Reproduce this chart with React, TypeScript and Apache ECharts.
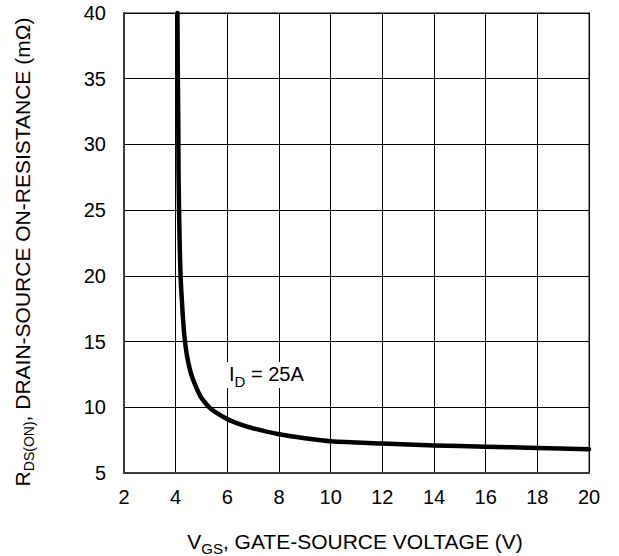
import React, { useEffect, useRef } from "react";
import * as echarts from "echarts";

// V_GS (V)
const vgs = [4.07, 4.08, 4.1, 4.11, 4.14, 4.19, 4.26, 4.32, 4.4, 4.5, 4.62, 4.8, 5.0, 5.3, 5.6, 6, 6.5, 7, 8, 9, 10, 12, 14, 16, 18, 20];
// R_DS(on) (mΩ)
const rds = [40, 36, 32, 28, 24, 20, 17.5, 15.8, 14.4, 13.3, 12.4, 11.5, 10.7, 10, 9.55, 9.1, 8.7, 8.4, 7.95, 7.65, 7.42, 7.25, 7.1, 7.0, 6.9, 6.8];

const xMin = 2, xMax = 20, xStep = 2;
const yMin = 5, yMax = 40, yStep = 5;

const FONT = "'Liberation Sans', Arial, sans-serif";

export default function App() {
  const ref = useRef<HTMLDivElement>(null);
  useEffect(() => {
    document.body.style.margin = "0";
    const chart = echarts.init(ref.current!, null, { renderer: "svg" });
    const data = vgs.map((x, i) => [x, rds[i]]);
    chart.setOption({
      animation: false,
      backgroundColor: "#ffffff",
      grid: {
        left: 124,
        right: 30,
        top: 13,
        bottom: 83,
        show: true,
        borderColor: "#8a8a8a",
        borderWidth: 2,
      },
      xAxis: {
        type: "value",
        min: xMin,
        max: xMax,
        interval: xStep,
        axisLine: { show: true, lineStyle: { color: "#3a3a3a", width: 2 } },
        axisTick: { show: false },
        axisLabel: { color: "#000", fontSize: 20, fontFamily: FONT, margin: 14 },
        splitLine: { show: true, lineStyle: { color: "#000", width: 1 } },
      },
      yAxis: {
        type: "value",
        min: yMin,
        max: yMax,
        interval: yStep,
        axisLine: { show: true, lineStyle: { color: "#3a3a3a", width: 2 } },
        axisTick: { show: false },
        axisLabel: { color: "#000", fontSize: 20, fontFamily: FONT, margin: 18 },
        splitLine: { show: true, lineStyle: { color: "#000", width: 1 } },
      },
      series: [
        {
          type: "line",
          data,
          showSymbol: false,
          smooth: 0.3,
          lineStyle: { color: "#000", width: 4.5, join: "round", cap: "round" },
          z: 5,
        },
      ],
      graphic: [
        {
          type: "text",
          x: 226,
          y: 375,
          z: 10,
          style: {
            text: "{a|I}{s|D}{a| = 25A}",
            align: "left",
            verticalAlign: "middle",
            backgroundColor: "#ffffff",
            padding: [2, 3, 2, 3],
            rich: {
              a: { fontSize: 20, fontFamily: FONT, fill: "#000", lineHeight: 22, verticalAlign: "top" },
              s: { fontSize: 15, fontFamily: FONT, fill: "#000", lineHeight: 15, verticalAlign: "top", padding: [10, 0, 0, 0] },
            },
          },
        },
        {
          type: "text",
          x: 355,
          y: 542,
          style: {
            text: "{a|V}{s|GS}{a|, GATE-SOURCE VOLTAGE (V)}",
            align: "center",
            verticalAlign: "middle",
            rich: {
              a: { fontSize: 21, fontFamily: FONT, fill: "#000", lineHeight: 23, verticalAlign: "top" },
              s: { fontSize: 15, fontFamily: FONT, fill: "#000", lineHeight: 15, verticalAlign: "top", padding: [10, 0, 0, 0] },
            },
          },
        },
        {
          type: "text",
          x: 23,
          y: 252,
          rotation: Math.PI / 2,
          style: {
            text: "{a|R}{s|DS(ON)}{a|, DRAIN-SOURCE ON-RESISTANCE (mΩ)}",
            align: "center",
            verticalAlign: "middle",
            rich: {
              a: { fontSize: 21, fontFamily: FONT, fill: "#000", lineHeight: 22, verticalAlign: "top" },
              s: { fontSize: 14, fontFamily: FONT, fill: "#000", lineHeight: 14, verticalAlign: "top", padding: [10, 0, 0, 0] },
            },
          },
        },
      ],
    });
    return () => chart.dispose();
  }, []);
  return <div ref={ref} style={{ width: 619, height: 556 }} />;
}
